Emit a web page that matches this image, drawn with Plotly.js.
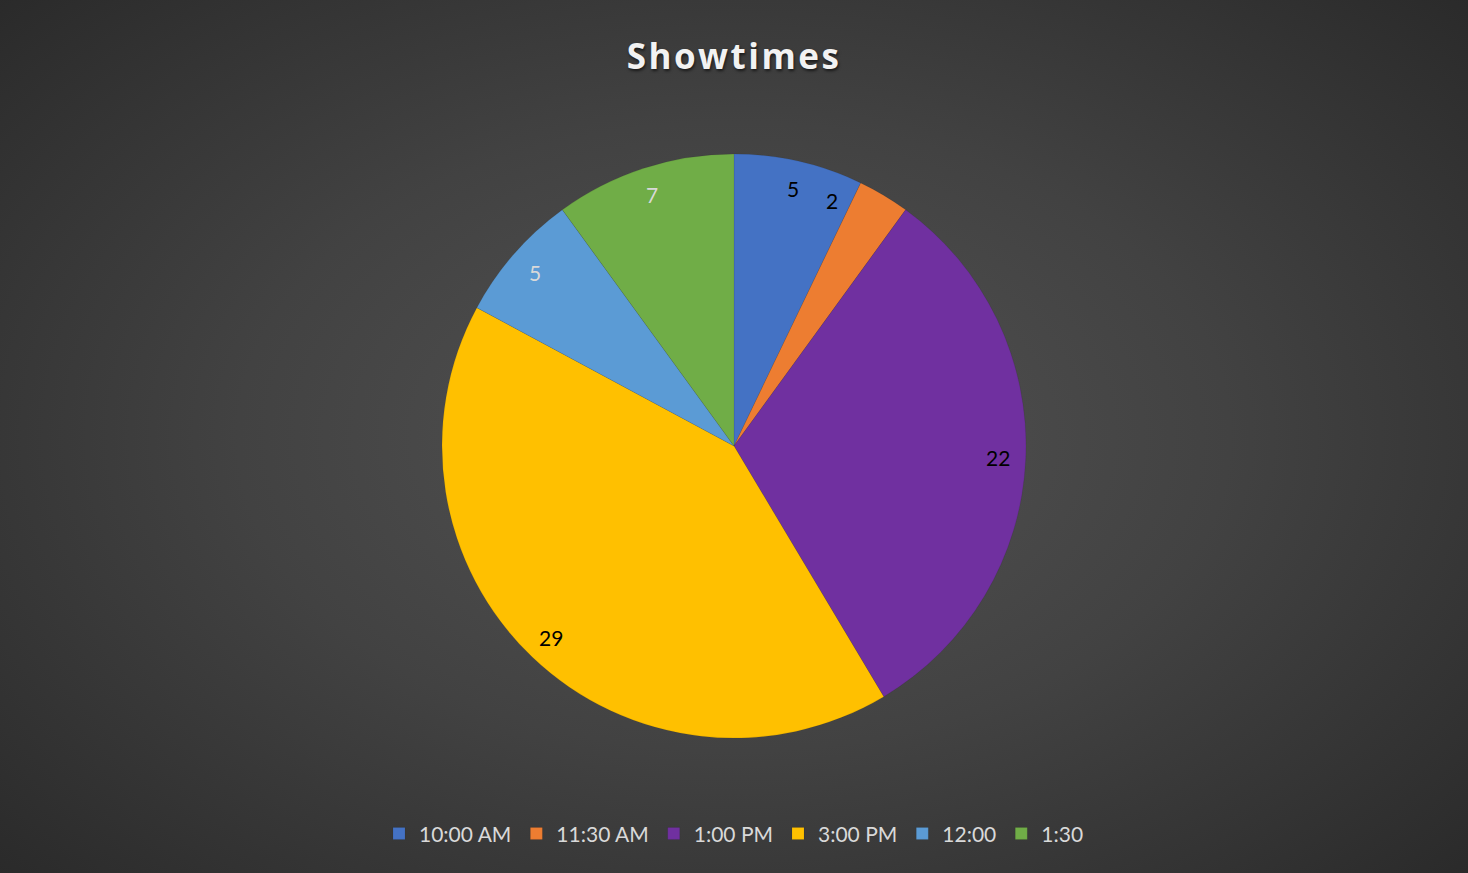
<!DOCTYPE html>
<html>
<head>
<meta charset="utf-8">
<script src="https://cdn.plot.ly/plotly-3.0.1.min.js"></script>
<style>
  html, body { margin: 0; padding: 0; }
  body {
    width: 1468px; height: 873px; overflow: hidden;
    background: radial-gradient(ellipse 75% 80% at 50% 50%, #535353 0%, #424242 45%, #2b2b2b 90%, #272727 100%);
  }
  #chart { width: 1468px; height: 873px; }
  .gtitle { letter-spacing: 2.5px; }
</style>
</head>
<body>
<div id="chart"></div>
<script>
const categories = ["10:00 AM", "11:30 AM", "1:00 PM", "3:00 PM", "12:00", "1:30"];
const values = [5, 2, 22, 29, 5, 7];
const colors = ["#4472C4", "#ED7D31", "#7030A0", "#FFC000", "#5B9BD5", "#70AD47"];
const labelColors = ["#000000", "#000000", "#000000", "#000000", "#d9d9d9", "#d9d9d9"];
// small angular nudge (degrees) so a label fits its narrow slice, like Excel does
const labelAngleNudge = [0, -9, 0, 0, 0, 0];

const W = 1468, H = 873;
const margin = { t: 154, b: 135, l: 100, r: 100 };
const plotW = W - margin.l - margin.r;
const plotH = H - margin.t - margin.b;
const labelRadiusFrac = 0.905; // labels placed near the outer edge

const trace = {
  type: "pie",
  labels: categories,
  values: values,
  sort: false,
  direction: "clockwise",
  rotation: 0,
  marker: { colors: colors, line: { width: 0.5, color: "rgba(0,0,0,0.15)" } },
  textinfo: "none",
  hoverinfo: "label+value+percent"
};

// data labels derived from the values
const total = values.reduce((a, b) => a + b, 0);
const R = Math.min(plotW, plotH) / 2;
let cum = 0;
const annotations = values.map((v, i) => {
  const midFrac = (cum + v / 2) / total;
  cum += v;
  const ang = (midFrac * 360 + labelAngleNudge[i]) * Math.PI / 180;
  const r = R * labelRadiusFrac;
  const dx = r * Math.sin(ang);
  const dy = r * Math.cos(ang);
  return {
    xref: "paper", yref: "paper",
    x: 0.5 + dx / plotW,
    y: 0.5 + dy / plotH,
    xanchor: "center", yanchor: "middle",
    text: String(v),
    showarrow: false,
    font: { family: "Lato, 'Open Sans', sans-serif", size: 21, color: labelColors[i] }
  };
});

const layout = {
  width: W,
  height: H,
  paper_bgcolor: "rgba(0,0,0,0)",
  plot_bgcolor: "rgba(0,0,0,0)",
  margin: { t: margin.t, b: margin.b, l: margin.l, r: margin.r, autoexpand: false },
  title: {
    text: "<b>Showtimes</b>",
    x: 0.5, xanchor: "center",
    y: 0.935, yanchor: "middle",
    font: { family: "'Open Sans', Lato, sans-serif", size: 35, color: "#f2f2f2", shadow: "1px 2px 3px rgba(0,0,0,0.6)" }
  },
  annotations: annotations,
  showlegend: true,
  legend: {
    orientation: "h",
    x: 0.5, xanchor: "center",
    y: -0.164, yanchor: "middle",
    font: { family: "Lato, 'Open Sans', sans-serif", size: 21, color: "#d9d9d9" },
    itemwidth: 30,
    bgcolor: "rgba(0,0,0,0)"
  }
};

Plotly.newPlot("chart", [trace], layout, { displayModeBar: false, staticPlot: true });
</script>
</body>
</html>
